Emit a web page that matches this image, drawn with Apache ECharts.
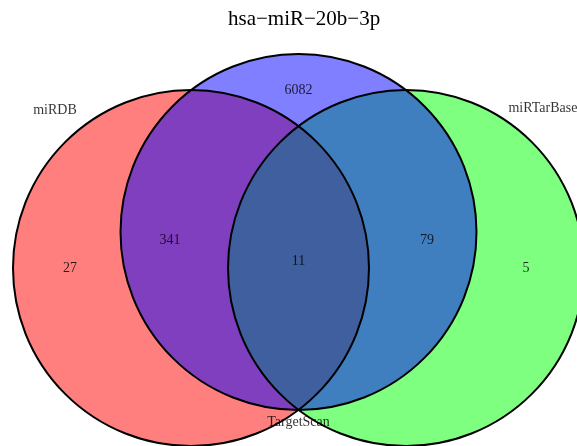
<!DOCTYPE html>
<html>
<head>
<meta charset="utf-8">
<script src="https://cdn.jsdelivr.net/npm/echarts@6/dist/echarts.min.js"></script>
<style>html,body{margin:0;padding:0;background:#fff}#c{width:577px;height:446px}</style>
</head>
<body>
<div id="c"></div>
<script>
// ---- data ----
const chartTitle = 'hsa\u2212miR\u221220b\u22123p';
// sets (draw order: miRDB, miRTarBase, TargetScan)
const setNames = ['miRDB', 'miRTarBase', 'TargetScan'];
const setCenterX = [-0.604, 0.604, 0];
const setCenterY = [0, 0, 0.202];
const setRadius = [1, 1, 1];
const setLabelX = [-1.368, 1.373, 0];
const setLabelY = [0.885, 0.895, -0.866];
// region counts
const regionNames = ['miRDB only', 'miRTarBase only', 'TargetScan only', 'miRDB & TargetScan', 'TargetScan & miRTarBase', 'all three'];
const regionCounts = [27, 5, 6082, 341, 79, 11];
const regionX = [-1.284, 1.278, 0, -0.722, 0.722, 0];
const regionY = [0, 0, 1.0, 0.157, 0.157, 0.039];

// ---- chart ----
const fillColors = ['rgba(255,0,0,0.5)', 'rgba(0,255,0,0.5)', 'rgba(0,0,255,0.5)'];
const serif = 'Liberation Serif, Times New Roman, serif';

const circleData = setNames.map((n, i) => [setCenterX[i], setCenterY[i], setRadius[i], i]);

function makeCircle(fill) {
  return function (params, api) {
    const c = api.coord([api.value(0), api.value(1)]);
    const r = api.size([api.value(2), 0])[0];
    const i = api.value(3);
    return {
      type: 'circle',
      shape: { cx: c[0], cy: c[1], r: r },
      style: fill ? { fill: fillColors[i], stroke: null }
                  : { fill: 'none', stroke: '#000', lineWidth: 2 }
    };
  };
}

const chart = echarts.init(document.getElementById('c'), null, { renderer: 'canvas' });
chart.setOption({
  animation: false,
  backgroundColor: '#fff',
  title: {
    text: chartTitle, left: 223, top: 4,
    textStyle: { fontFamily: serif, fontSize: 21, fontWeight: 'normal', color: '#000' }
  },
  grid: { left: 0, right: 0, top: 0, bottom: 0 },
  xAxis: { type: 'value', min: -1.677, max: 1.5646, show: false },
  yAxis: { type: 'value', min: -1.0, max: 1.5056, show: false },
  series: [
    { type: 'custom', renderItem: makeCircle(true), data: circleData, silent: true, z: 1 },
    { type: 'custom', renderItem: makeCircle(false), data: circleData, silent: true, z: 2 },
    {
      type: 'scatter', symbolSize: 0, z: 3,
      data: regionCounts.map((v, i) => ({ name: regionNames[i], value: [regionX[i], regionY[i], v] })),
      label: { show: true, position: 'inside', formatter: p => String(p.value[2]),
        fontFamily: serif, fontSize: 14, color: '#000' }
    },
    {
      type: 'scatter', symbolSize: 0, z: 3,
      data: setNames.map((n, i) => ({ name: n, value: [setLabelX[i], setLabelY[i]] })),
      label: { show: true, position: 'inside', formatter: p => p.name,
        fontFamily: serif, fontSize: 14, color: '#000' }
    }
  ]
});
</script>
</body>
</html>
